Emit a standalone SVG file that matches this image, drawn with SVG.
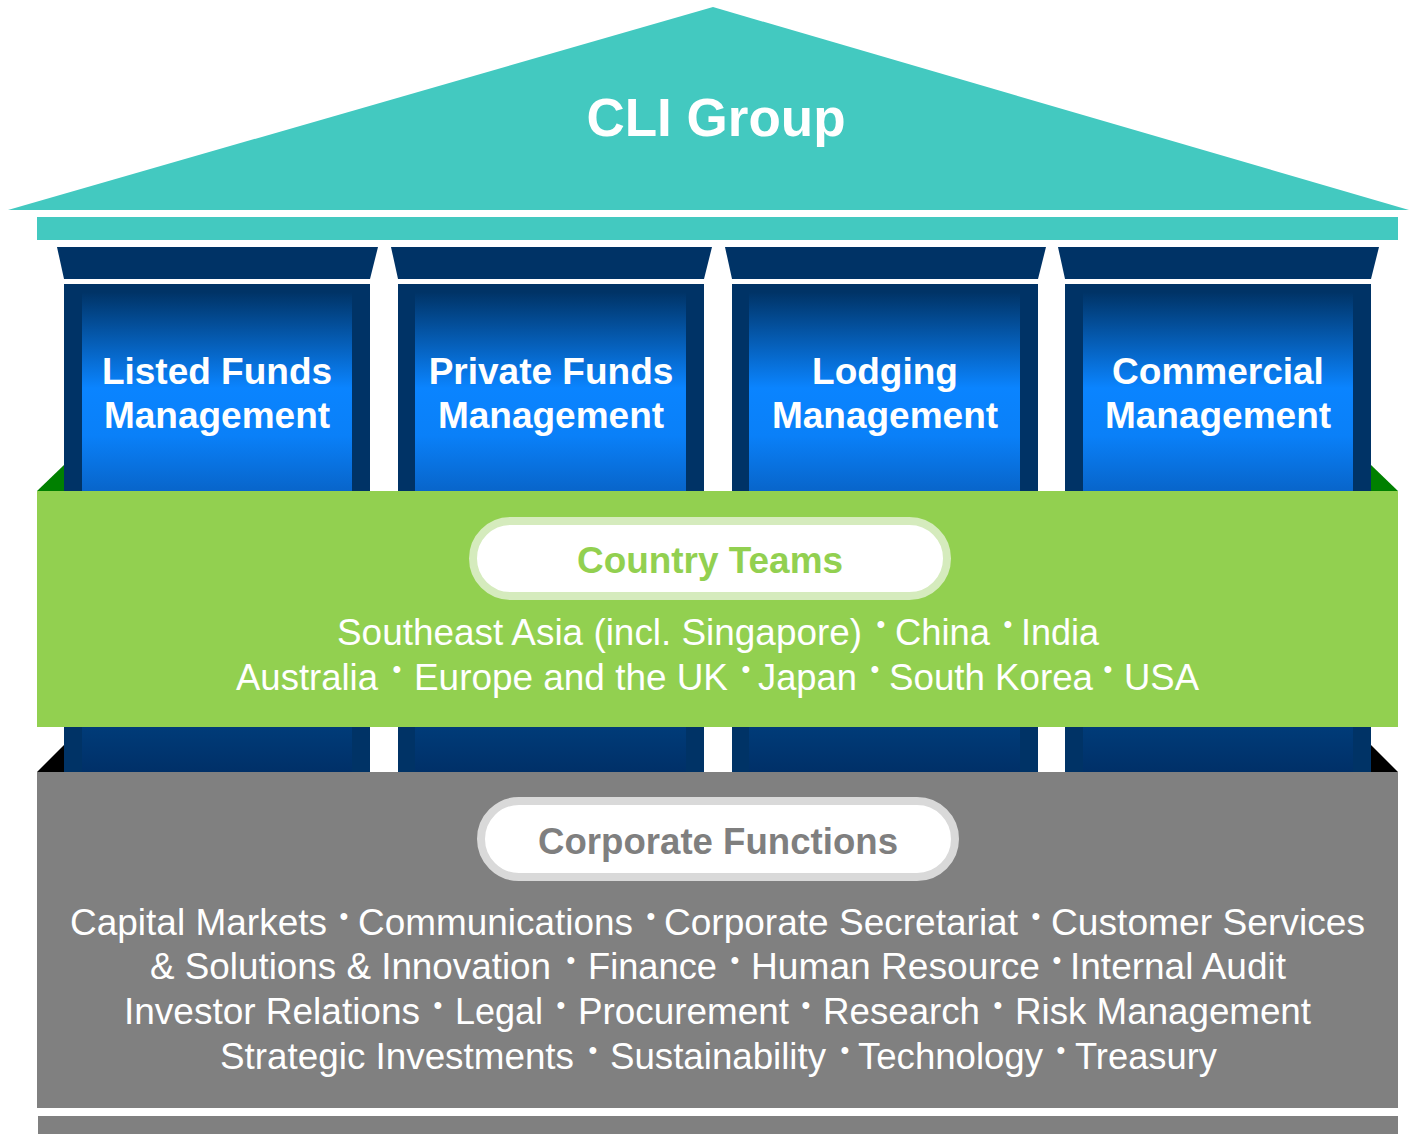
<svg xmlns="http://www.w3.org/2000/svg" width="1409" height="1134" viewBox="0 0 1409 1134">
<defs>
<linearGradient id="pg" gradientUnits="userSpaceOnUse" x1="0" y1="292" x2="0" y2="772">
<stop offset="0" stop-color="#003366"/>
<stop offset="0.2" stop-color="#0a84ff"/>
<stop offset="0.3" stop-color="#0a80f8"/>
<stop offset="0.41" stop-color="#0866cc"/>
<stop offset="0.91" stop-color="#003b78"/>
<stop offset="1" stop-color="#003068"/>
</linearGradient>
<style>
.navy{fill:#003366}
.inner{fill:url(#pg)}
.title{font-family:"Liberation Sans",Arial,sans-serif;font-weight:bold;fill:#ffffff;text-anchor:middle}
.body{font-family:"Liberation Sans",Arial,sans-serif;font-size:36px;fill:#ffffff}
.bul{font-family:"Liberation Sans",Arial,sans-serif;font-size:25px;fill:#ffffff;text-anchor:middle}
</style>
</defs>
<rect width="1409" height="1134" fill="#ffffff"/>

<g id="roof">
<polygon points="8,210 713,7 1409,210" fill="#43c9c0"/>
<rect x="37" y="217" width="1361" height="23" fill="#43c9c0"/>
<text class="title" x="716" y="136" font-size="53">CLI Group</text>
</g>

<g id="pillar-listed">
<polygon class="navy" points="57,247 378,247 370,279 64,279"/>
<rect class="navy" x="64" y="284" width="306" height="488"/>
<rect class="inner" x="82" y="292" width="270" height="480"/>
<text class="title" x="217" y="384" font-size="37">Listed Funds</text>
<text class="title" x="217" y="428" font-size="37">Management</text>
</g>
<g id="pillar-private">
<polygon class="navy" points="391,247 712,247 704,279 398,279"/>
<rect class="navy" x="398" y="284" width="306" height="488"/>
<rect class="inner" x="415" y="292" width="271" height="480"/>
<text class="title" x="551" y="384" font-size="37">Private Funds</text>
<text class="title" x="551" y="428" font-size="37">Management</text>
</g>
<g id="pillar-lodging">
<polygon class="navy" points="725,247 1046,247 1038,279 732,279"/>
<rect class="navy" x="732" y="284" width="306" height="488"/>
<rect class="inner" x="749" y="292" width="271" height="480"/>
<text class="title" x="885" y="384" font-size="37">Lodging</text>
<text class="title" x="885" y="428" font-size="37">Management</text>
</g>
<g id="pillar-commercial">
<polygon class="navy" points="1058,247 1379,247 1371,279 1065,279"/>
<rect class="navy" x="1065" y="284" width="306" height="488"/>
<rect class="inner" x="1083" y="292" width="270" height="480"/>
<text class="title" x="1218" y="384" font-size="37">Commercial</text>
<text class="title" x="1218" y="428" font-size="37">Management</text>
</g>

<g id="country-teams">
<polygon points="37,491 64,465 64,491" fill="#008000"/>
<polygon points="1371,465 1398,491 1371,491" fill="#008000"/>
<rect x="37" y="491" width="1361" height="236" fill="#92d050"/>
<rect x="473" y="521" width="474" height="75" rx="37.5" fill="#ffffff" stroke="#d5ebbd" stroke-width="8"/>
<text class="title" x="710" y="573" font-size="36" style="fill:#92d050" textLength="266" lengthAdjust="spacingAndGlyphs">Country Teams</text>
<text class="body" x="337" y="645" textLength="525" lengthAdjust="spacingAndGlyphs">Southeast Asia (incl. Singapore)</text>
<text class="body" x="895" y="645" textLength="95" lengthAdjust="spacingAndGlyphs">China</text>
<text class="body" x="1021" y="645" textLength="78" lengthAdjust="spacingAndGlyphs">India</text>
<text class="body" x="236" y="690" textLength="142" lengthAdjust="spacingAndGlyphs">Australia</text>
<text class="body" x="414" y="690" textLength="314" lengthAdjust="spacingAndGlyphs">Europe and the UK</text>
<text class="body" x="758" y="690" textLength="99" lengthAdjust="spacingAndGlyphs">Japan</text>
<text class="body" x="889" y="690" textLength="204" lengthAdjust="spacingAndGlyphs">South Korea</text>
<text class="body" x="1124" y="690" textLength="75" lengthAdjust="spacingAndGlyphs">USA</text>
<text class="bul" x="881" y="633">•</text>
<text class="bul" x="1008" y="633">•</text>
<text class="bul" x="397" y="678">•</text>
<text class="bul" x="746" y="678">•</text>
<text class="bul" x="875" y="678">•</text>
<text class="bul" x="1108" y="678">•</text>
</g>

<g id="corporate-functions">
<polygon points="37,772 64,745 64,772" fill="#000000"/>
<polygon points="1371,745 1398,772 1371,772" fill="#000000"/>
<rect x="37" y="772" width="1361" height="336" fill="#808080"/>
<rect x="38" y="1116" width="1360" height="18" fill="#808080"/>
<rect x="481" y="801" width="474" height="76" rx="38" fill="#ffffff" stroke="#d9d9d9" stroke-width="8"/>
<text class="title" x="718" y="854" font-size="36" style="fill:#7f7f7f" textLength="360" lengthAdjust="spacingAndGlyphs">Corporate Functions</text>
<text class="body" x="70" y="935" textLength="257" lengthAdjust="spacingAndGlyphs">Capital Markets</text>
<text class="body" x="358" y="935" textLength="275" lengthAdjust="spacingAndGlyphs">Communications</text>
<text class="body" x="664" y="935" textLength="354" lengthAdjust="spacingAndGlyphs">Corporate Secretariat</text>
<text class="body" x="1051" y="935" textLength="314" lengthAdjust="spacingAndGlyphs">Customer Services</text>
<text class="body" x="150" y="979" textLength="401" lengthAdjust="spacingAndGlyphs">&amp; Solutions &amp; Innovation</text>
<text class="body" x="588" y="979" textLength="129" lengthAdjust="spacingAndGlyphs">Finance</text>
<text class="body" x="751" y="979" textLength="289" lengthAdjust="spacingAndGlyphs">Human Resource</text>
<text class="body" x="1070" y="979" textLength="216" lengthAdjust="spacingAndGlyphs">Internal Audit</text>
<text class="body" x="124" y="1024" textLength="296" lengthAdjust="spacingAndGlyphs">Investor Relations</text>
<text class="body" x="455" y="1024" textLength="88" lengthAdjust="spacingAndGlyphs">Legal</text>
<text class="body" x="578" y="1024" textLength="211" lengthAdjust="spacingAndGlyphs">Procurement</text>
<text class="body" x="823" y="1024" textLength="157" lengthAdjust="spacingAndGlyphs">Research</text>
<text class="body" x="1015" y="1024" textLength="296" lengthAdjust="spacingAndGlyphs">Risk Management</text>
<text class="body" x="220" y="1069" textLength="354" lengthAdjust="spacingAndGlyphs">Strategic Investments</text>
<text class="body" x="610" y="1069" textLength="216" lengthAdjust="spacingAndGlyphs">Sustainability</text>
<text class="body" x="858" y="1069" textLength="185" lengthAdjust="spacingAndGlyphs">Technology</text>
<text class="body" x="1075" y="1069" textLength="142" lengthAdjust="spacingAndGlyphs">Treasury</text>
<text class="bul" x="344" y="925">•</text>
<text class="bul" x="651" y="925">•</text>
<text class="bul" x="1036" y="925">•</text>
<text class="bul" x="571" y="969">•</text>
<text class="bul" x="735" y="969">•</text>
<text class="bul" x="1057" y="969">•</text>
<text class="bul" x="438" y="1014">•</text>
<text class="bul" x="561" y="1014">•</text>
<text class="bul" x="806" y="1014">•</text>
<text class="bul" x="998" y="1014">•</text>
<text class="bul" x="593" y="1059">•</text>
<text class="bul" x="845" y="1059">•</text>
<text class="bul" x="1061" y="1059">•</text>
</g>
</svg>
